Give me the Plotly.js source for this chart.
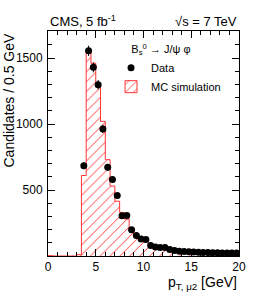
<!DOCTYPE html>
<html>
<head>
<meta charset="utf-8">
<script src="https://cdn.plot.ly/plotly-3.0.1.min.js"></script>
<style>html,body{margin:0;padding:0;background:#fff;}#chart{width:266px;height:300px;}</style>
</head>
<body>
<div id="chart"></div>
<script>
// Data points (bin centres, GeV) and counts per 0.5 GeV
const dataX = [3.75,4.25,4.75,5.25,5.75,6.25,6.75,7.25,7.75,8.25,8.75,9.25,9.75,10.25,10.75,11.25,11.75,12.25,12.75,13.25,13.75,14.25,14.75,15.25,15.75,16.25,16.75,17.25,17.75,18.25,18.75,19.25,19.75];
const dataY = [684,1555,1430,1298,963,672,580,458,305,306,198,156,128,125,80,68,64,64,50,42,36,34,32,30,28,27,26,25,24,23,23,22,22];
const dataErr = [26,39,38,36,31,26,24,21,17,17,14,12,11,11,9,8,8,8,7,6,6,6,6,5,5,5,5,5,5,5,5,5,5];

// MC simulation histogram (0.5 GeV bins from 0 to 20 GeV)
const mcX = [0.25,0.75,1.25,1.75,2.25,2.75,3.25,3.75,4.25,4.75,5.25,5.75,6.25,6.75,7.25,7.75,8.25,8.75,9.25,9.75,10.25,10.75,11.25,11.75,12.25,12.75,13.25,13.75,14.25,14.75,15.25,15.75,16.25,16.75,17.25,17.75,18.25,18.75,19.25,19.75];
const mcY = [0,0,0,0,0,0,10,610,1560,1460,1285,1020,730,530,415,330,280,210,165,135,108,86,72,60,52,45,38,33,29,26,24,22,20,19,18,17,16,15,14,13];

const xTicks = [0,5,10,15,20];
const yTicks = [500,1000,1500];

const binW = 0.5;
// step outline built from the MC arrays
const stepX = mcX.map(c => c - binW/2).concat([mcX[mcX.length-1] + binW/2]);
const stepY = mcY.concat([mcY[mcY.length-1]]);

const FONT = 'Liberation Sans, Arial, sans-serif';
const hatch = {shape: '/', fgcolor: '#ff3838', bgcolor: 'rgba(255,255,255,0)', size: 7, solidity: 0.14};

const traces = [
  {
    type: 'bar', x: mcX, y: mcY, width: binW, name: 'MC simulation',
    marker: {color: 'rgba(255,255,255,0)', line: {color: '#ff3333', width: 0}, pattern: hatch},
    showlegend: false, hoverinfo: 'skip'
  },
  {
    type: 'scatter', mode: 'lines', x: stepX, y: stepY, line: {shape: 'hv', color: '#ff3333', width: 1},
    showlegend: false, hoverinfo: 'skip'
  },
  {
    // legend entry: first (empty) MC bin, outlined, so the legend swatch gets a border
    type: 'bar', x: mcX.slice(0, 1), y: mcY.slice(0, 1), width: binW, name: 'MC simulation',
    marker: {color: 'rgba(255,255,255,0)', line: {color: '#ff3333', width: 1}, pattern: hatch},
    showlegend: true, hoverinfo: 'skip'
  },
  {
    type: 'scatter', mode: 'markers', x: dataX, y: dataY, name: 'Data',
    marker: {color: 'black', size: 7, symbol: 'circle'},
    error_y: {type: 'data', array: dataErr, visible: true, color: 'black', thickness: 1, width: 0},
    showlegend: true
  }
];

const axisCommon = {
  showline: true, linecolor: 'black', linewidth: 1, mirror: 'allticks',
  ticks: 'inside', ticklen: 7, tickwidth: 1, tickcolor: 'black',
  showgrid: false, zeroline: false,
  tickfont: {family: FONT, size: 12, color: 'black'}
};

const layout = {
  width: 266, height: 300,
  margin: {l: 48, r: 27, t: 31, b: 44},
  paper_bgcolor: 'white', plot_bgcolor: 'white',
  font: {family: FONT, color: 'black'},
  barmode: 'overlay', bargap: 0,
  xaxis: Object.assign({}, axisCommon, {
    range: [0, 20], tickvals: xTicks, ticktext: xTicks.map(String),
    minor: {dtick: 1, tick0: 0, ticks: 'inside', ticklen: 4, tickcolor: 'black', showgrid: false}
  }),
  yaxis: Object.assign({}, axisCommon, {
    range: [0, 1705], tickvals: yTicks, ticktext: yTicks.map(String), ticklabelstandoff: 2,
    minor: {dtick: 100, tick0: 0, ticks: 'inside', ticklen: 4, tickcolor: 'black', showgrid: false}
  }),
  legend: {
    x: 0.33, y: 0.965, xanchor: 'left', yanchor: 'top',
    bgcolor: 'rgba(0,0,0,0)', borderwidth: 0,
    font: {family: FONT, size: 11, color: 'black'},
    title: {text: '      B<sub>s</sub><sup>0</sup> → J/ψ φ', font: {family: FONT, size: 11}},
    traceorder: 'reversed', itemwidth: 30, tracegroupgap: 0
  },
  annotations: [
    {text: 'CMS, 5 fb<sup>-1</sup>', xref: 'paper', yref: 'paper', x: 0, y: 1, xanchor: 'left', yanchor: 'bottom',
     showarrow: false, font: {family: FONT, size: 13}, yshift: 0},
    {text: '√s = 7 TeV', xref: 'paper', yref: 'paper', x: 1, y: 1, xanchor: 'right', yanchor: 'bottom',
     showarrow: false, font: {family: FONT, size: 13}, yshift: 0},
    {text: 'Candidates / 0.5 GeV', xref: 'paper', yref: 'paper', x: 0, y: 1, xanchor: 'right', yanchor: 'top',
     xshift: -30, showarrow: false, textangle: -90, font: {family: FONT, size: 14}},
    {text: 'p<sub>T, μ2</sub> [GeV]', xref: 'paper', yref: 'paper', x: 1, y: 0, xanchor: 'right', yanchor: 'top',
     yshift: -16, showarrow: false, font: {family: FONT, size: 14}}
  ]
};

Plotly.newPlot('chart', traces, layout, {staticPlot: true, displayModeBar: false});
</script>
</body>
</html>
